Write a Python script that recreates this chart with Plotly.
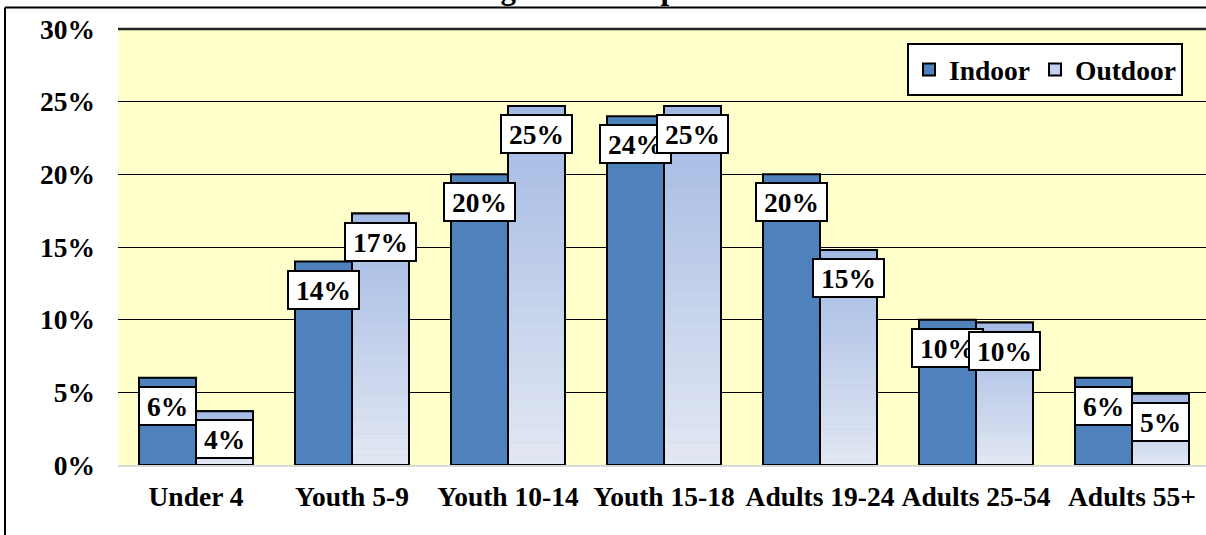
import plotly.graph_objects as go

# ── Data ──────────────────────────────────────────────────────────────────────
CATEGORIES = ["Under 4", "Youth 5-9", "Youth 10-14", "Youth 15-18",
              "Adults 19-24", "Adults 25-54", "Adults 55+"]
INDOOR  = [6.0, 14.0, 20.0, 24.0, 20.0, 10.0, 6.0]
OUTDOOR = [3.7, 17.3, 24.7, 24.7, 14.8, 9.8, 4.9]
Y_TICKS = [0, 5, 10, 15, 20, 25, 30]
TITLE   = "Age of Participants"

# ── Design tokens ─────────────────────────────────────────────────────────────
FONT      = "Liberation Serif, Times New Roman, serif"
FS        = 27.5
PLOT_BG   = "#FFFFCC"
IND_COLOR = "#4F81BD"
OUT_TOP   = (0xA1, 0xB8, 0xE3)
OUT_BOT   = (0xE3, 0xE8, 0xF3)
OUT_SWATCH = "#C3D1EC"

W, H = 1206, 535
ML, MR, MT, MB = 118, 0, 29, 70
PW, PH = W - ML - MR, H - MT - MB
CAT_PX = 156          # pixel width of one category slot
BAR_PX = 57           # pixel width of one bar
N_SLICES = 48         # slices used to fake the vertical gradient


def px_x(px):
    return (px - ML) / PW


def px_y(py):
    return (H - MB - py) / PH


def mix(t):
    r, g, b = (round(a + (c - a) * t) for a, c in zip(OUT_BOT, OUT_TOP))
    return f"rgb({r},{g},{b})"


fig = go.Figure()

# Indoor bars
fig.add_trace(go.Bar(
    name="Indoor", x=CATEGORIES, y=INDOOR, offsetgroup="in",
    marker=dict(color=IND_COLOR, line=dict(color="black", width=2)),
))

# Outdoor: base fill (legend swatch) + gradient slices + outline on top
fig.add_trace(go.Bar(
    name="Outdoor", x=CATEGORIES, y=OUTDOOR, offsetgroup="out",
    marker=dict(color=OUT_SWATCH, line=dict(color="black", width=2)),
))
for i in range(N_SLICES):
    fig.add_trace(go.Bar(
        x=CATEGORIES,
        y=[v / N_SLICES for v in OUTDOOR],
        base=[v * i / N_SLICES for v in OUTDOOR],
        offsetgroup="out", showlegend=False, hoverinfo="skip",
        marker=dict(color=mix((i + 0.5) / N_SLICES), line=dict(width=0)),
    ))
fig.add_trace(go.Bar(
    x=CATEGORIES, y=OUTDOOR, offsetgroup="out", showlegend=False,
    marker=dict(color="rgba(0,0,0,0)", line=dict(color="black", width=2)),
))

# Data labels
annotations = []
for vals, side in ((INDOOR, -1), (OUTDOOR, 1)):
    for cat, v in zip(CATEGORIES, vals):
        annotations.append(dict(
            x=cat, y=v, xref="x", yref="y",
            text=f"{round(v)}%", showarrow=False,
            xshift=side * BAR_PX / 2, yshift=-8, yanchor="top",
            bgcolor="white", bordercolor="black", borderwidth=2, borderpad=7,
            height=22,
            font=dict(family=FONT, size=FS, color="black", weight="bold"),
        ))

# Title, mostly cropped off the top of the picture
annotations.append(dict(
    x=px_x(605), y=px_y(8), xref="paper", yref="paper",
    text=f"<b>{TITLE}</b>", showarrow=False, yanchor="bottom",
    font=dict(family=FONT, size=31, color="black"),
))

# Outer chart frame (only top and left edges fall inside the picture)
shapes = [
    dict(type="line", xref="paper", yref="paper",
         x0=px_x(5), x1=px_x(W + 5), y0=px_y(7.5), y1=px_y(7.5),
         line=dict(color="black", width=2)),
    dict(type="line", xref="paper", yref="paper",
         x0=px_x(5), x1=px_x(5), y0=px_y(7.5), y1=px_y(H + 5),
         line=dict(color="black", width=2)),
    # top edge of the plot area
    dict(type="line", xref="paper", yref="paper",
         x0=0, x1=1, y0=1, y1=1, layer="below",
         line=dict(color="#222222", width=2.5)),
]

n_span = PW / CAT_PX
fig.update_layout(
    width=W, height=H,
    margin=dict(l=ML, r=MR, t=MT, b=MB),
    paper_bgcolor="white", plot_bgcolor=PLOT_BG,
    font=dict(family=FONT, size=FS, color="black", weight="bold"),
    barmode="group", bargap=1 - 2 * BAR_PX / CAT_PX, bargroupgap=0,
    showlegend=True,
    legend=dict(
        orientation="h", x=px_x(1183), xanchor="right",
        y=px_y(43), yanchor="top",
        bgcolor="white", bordercolor="black", borderwidth=2,
        font=dict(family=FONT, size=FS, color="black", weight="bold"),
        itemwidth=30, traceorder="normal",
    ),
    xaxis=dict(
        range=[-0.5, -0.5 + n_span], showgrid=False,
        showline=True, linecolor="#D9D9D9", linewidth=2,
        ticks="", tickfont=dict(family=FONT, size=FS, weight="bold"),
        ticklabelstandoff=6,
    ),
    yaxis=dict(
        range=[0, 30], tickvals=Y_TICKS,
        ticktext=[f"{t}%" for t in Y_TICKS],
        showgrid=True, gridcolor="black", gridwidth=1.3,
        zeroline=False, showline=False, ticks="",
        tickfont=dict(family=FONT, size=FS, weight="bold"),
        ticklabelstandoff=22,
    ),
    annotations=annotations,
    shapes=shapes,
)

# drop the default page margin so the figure sits at the window's corner
fig.write_html(
    "out.html",
    config={"displayModeBar": False},
    post_script="document.body.style.margin='0';",
)
